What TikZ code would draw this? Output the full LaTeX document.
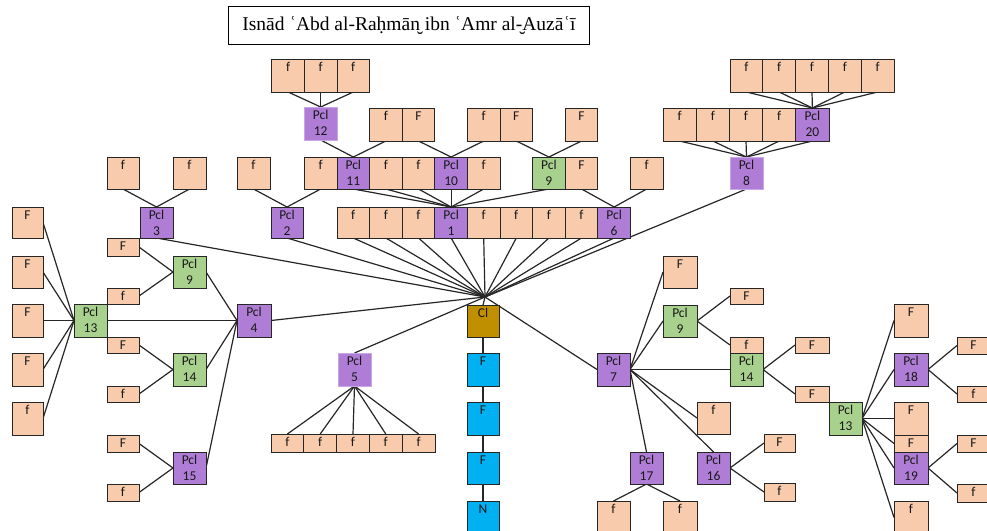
\documentclass[tikz,border=0pt]{standalone}
\usepackage{fontspec}
\setmainfont{Carlito}
\newfontfamily\titlefont{Liberation Serif}
\usetikzlibrary{backgrounds}
\definecolor{peach}{HTML}{F8CBAD}
\definecolor{grn}{HTML}{A9D18E}
\definecolor{purp}{HTML}{B07DD6}
\definecolor{purpl}{HTML}{C9A6E6}
\definecolor{gold}{HTML}{BF8F00}
\definecolor{cyanb}{HTML}{00B0F0}
\tikzset{
  box/.style={draw=black!85, line width=1pt, inner sep=0pt, outer sep=0pt, text=black!90, font=\fontsize{13.5}{16.5}\selectfont},
  pe/.style={box, fill=peach},
  gr/.style={box, fill=grn},
  pu/.style={box, fill=purp},
  pul/.style={box, fill=purp, draw=purpl},
  clbox/.style={box, fill=gold},
  bl/.style={box, fill=cyanb},
  con/.style={draw=black!85, line width=1.2pt},
}
\newcommand{\mybox}[7]{\node[#6,anchor=north west] (#1) at (#2,#3) {\parbox[t][\dimexpr #5pt-#3pt\relax][t]{\dimexpr #4pt-#2pt\relax}{\centering\rule{0pt}{12pt}#7}};}
\begin{document}
\begin{tikzpicture}[x=1pt,y=-1pt]
\useasboundingbox (0,0) rectangle (987,530);
% title
\node[draw=black, line width=0.8pt, minimum width=361pt, minimum height=38pt, inner sep=0pt, anchor=north west, font=\titlefont\fontsize{19.5}{22}\selectfont] (title) at (228,6) {Isnād ʿAbd al-Raḥmān̮ ibn ʿAmr al-̮Auzāʿī};
% ---------- top left
\mybox{fA1}{107}{157}{139}{189}{pe}{f}
\mybox{fA2}{173}{157}{206}{189}{pe}{f}
\mybox{p3}{140}{207}{173}{238}{pu}{Pcl\\3}
\mybox{fB1}{237}{157}{270}{189}{pe}{f}
\mybox{p2}{271}{207}{303}{238}{pu}{Pcl\\2}
% ---------- left column
\mybox{L1}{12}{207}{43}{238}{pe}{F}
\mybox{L2}{12}{256}{43}{288}{pe}{F}
\mybox{L3}{12}{304}{43}{337}{pe}{F}
\mybox{L4}{12}{353}{43}{386}{pe}{F}
\mybox{L5}{12}{402}{43}{435}{pe}{f}
\mybox{p13L}{74}{304}{107}{337}{gr}{Pcl\\13}
\mybox{sF1}{107}{238}{139}{256}{pe}{F}
\mybox{p9L}{173}{256}{206}{288}{gr}{Pcl\\9}
\mybox{sf1}{107}{288}{139}{304}{pe}{f}
\mybox{p4}{237}{304}{271}{337}{pu}{Pcl\\4}
\mybox{sF2}{107}{337}{139}{353}{pe}{F}
\mybox{p14L}{173}{353}{206}{386}{gr}{Pcl\\14}
\mybox{sf2}{107}{386}{139}{402}{pe}{f}
\mybox{sF3}{107}{435}{139}{452}{pe}{F}
\mybox{p15}{173}{452}{206}{484}{pu}{Pcl\\15}
\mybox{sf3}{107}{484}{139}{501}{pe}{f}
% ---------- top middle
\mybox{t1}{271.8}{59}{304.4}{92}{pe}{f}
\mybox{t2}{304.4}{59}{337}{92}{pe}{f}
\mybox{t3}{337}{59}{369.6}{92}{pe}{f}
\mybox{p12}{304.4}{107}{337}{140}{pul}{Pcl\\12}
\mybox{ra1}{369.6}{108}{402.2}{141}{pe}{f}
\mybox{ra2}{402.2}{108}{434.8}{141}{pe}{F}
\mybox{ra4}{467.4}{108}{500}{141}{pe}{f}
\mybox{ra5}{500}{108}{532.6}{141}{pe}{F}
\mybox{ra7}{565.2}{108}{597.8}{141}{pe}{F}
% row 2
\mybox{rbm}{304.4}{157}{337}{189}{pe}{f}
\mybox{p11}{337}{157}{369.6}{189}{pu}{Pcl\\11}
\mybox{rb1}{369.6}{157}{402.2}{189}{pe}{f}
\mybox{rb2}{402.2}{157}{434.8}{189}{pe}{f}
\mybox{p10}{434.8}{157}{467.4}{189}{pu}{Pcl\\10}
\mybox{rb4}{467.4}{157}{500}{189}{pe}{f}
\mybox{p9T}{532.6}{157}{565.2}{189}{gr}{Pcl\\9}
\mybox{rb7}{565.2}{157}{597.8}{189}{pe}{F}
\mybox{rb9}{630.4}{157}{663}{189}{pe}{f}
% row 3
\mybox{rc0}{337}{207}{369.6}{238}{pe}{f}
\mybox{rc1}{369.6}{207}{402.2}{238}{pe}{f}
\mybox{rc2}{402.2}{207}{434.8}{238}{pe}{f}
\mybox{p1}{434.8}{207}{467.4}{238}{pu}{Pcl\\1}
\mybox{rc4}{467.4}{207}{500}{238}{pe}{f}
\mybox{rc5}{500}{207}{532.6}{238}{pe}{f}
\mybox{rc6}{532.6}{207}{565.2}{238}{pe}{f}
\mybox{rc7}{565.2}{207}{597.8}{238}{pe}{f}
\mybox{p6}{597.8}{207}{630.4}{238}{pu}{Pcl\\6}
% ---------- top right
\mybox{u1}{730}{59}{762.8}{92}{pe}{f}
\mybox{u2}{762.8}{59}{795.6}{92}{pe}{f}
\mybox{u3}{795.6}{59}{828.4}{92}{pe}{f}
\mybox{u4}{828.4}{59}{861.2}{92}{pe}{f}
\mybox{u5}{861.2}{59}{894}{92}{pe}{f}
\mybox{v1}{663}{108}{696.2}{141}{pe}{f}
\mybox{v2}{696.2}{108}{729.4}{141}{pe}{f}
\mybox{v3}{729.4}{108}{762.6}{141}{pe}{f}
\mybox{v4}{762.6}{108}{795.8}{141}{pe}{f}
\mybox{p20}{795.8}{108}{829}{141}{pu}{Pcl\\20}
\mybox{p8}{730}{157}{763}{189}{pul}{Pcl\\8}
% ---------- centre
\coordinate (hub) at (485,297);
\mybox{cl}{467}{305}{499}{337}{clbox}{Cl}
\mybox{b1}{467}{353}{499}{386}{bl}{F}
\mybox{b2}{467}{402}{499}{435}{bl}{F}
\mybox{b3}{467}{452}{499}{484}{bl}{F}
\mybox{b4}{467}{501}{499}{534}{bl}{N}
\mybox{p5}{338}{353}{371}{386}{pul}{Pcl\\5}
\mybox{w1}{271}{434}{303.8}{452}{pe}{f}
\mybox{w2}{303.8}{434}{336.6}{452}{pe}{f}
\mybox{w3}{336.6}{434}{369.4}{452}{pe}{f}
\mybox{w4}{369.4}{434}{402.2}{452}{pe}{f}
\mybox{w5}{402.2}{434}{435}{452}{pe}{f}
% ---------- right
\mybox{p7}{597}{353}{630}{386}{pu}{Pcl\\7}
\mybox{RF1}{663}{256}{697}{288}{pe}{F}
\mybox{p9R}{663}{305}{697}{337}{gr}{Pcl\\9}
\mybox{rsF1}{730}{288}{763}{304}{pe}{F}
\mybox{rsf1}{730}{337}{763}{353}{pe}{f}
\mybox{p14R}{730}{353}{763}{386}{gr}{Pcl\\14}
\mybox{Rf2}{697}{402}{730}{434}{pe}{f}
\mybox{p17}{630}{452}{663}{484}{pu}{Pcl\\17}
\mybox{p16}{697}{452}{730}{484}{pu}{Pcl\\16}
\mybox{rsF2}{764}{434}{795}{452}{pe}{F}
\mybox{rsf2}{764}{483}{795}{501}{pe}{f}
\mybox{Rf3}{597}{501}{630}{534}{pe}{f}
\mybox{Rf4}{663}{501}{697}{534}{pe}{f}
\mybox{rsF3}{795}{337}{829}{353}{pe}{F}
\mybox{rsF4}{795}{386}{829}{402}{pe}{F}
\mybox{p13R}{829}{402}{862}{435}{gr}{Pcl\\13}
\mybox{RR1}{894}{304}{928}{337}{pe}{F}
\mybox{p18}{894}{353}{928}{386}{pu}{Pcl\\18}
\mybox{RR2}{894}{402}{928}{435}{pe}{F}
\mybox{RR3}{894}{435}{928}{452}{pe}{F}
\mybox{p19}{894}{452}{928}{484}{pu}{Pcl\\19}
\mybox{RR4}{894}{501}{928}{534}{pe}{f}
\mybox{RX1}{957}{337}{990}{354}{pe}{F}
\mybox{RX2}{957}{386}{990}{402}{pe}{f}
\mybox{RX3}{957}{435}{990}{452}{pe}{F}
\mybox{RX4}{957}{484}{990}{502}{pe}{f}
% ---------- connectors
\begin{pgfonlayer}{background}
\draw[con] (fA1.south) -- (p3.north) -- (fA2.south);
\draw[con] (fB1.south) -- (p2.north) -- (rbm.south);
\foreach \n in {p3,p2,rc0,rc1,rc2,p1,rc4,rc5,rc6,rc7,p6,p8}
  \draw[con] (\n.south) -- (hub);
\draw[con] (p4.east) -- (hub);
\draw[con] (p5.north) -- (hub);
\draw[con] (hub) -- (cl.north);
\draw[con] (cl.south) -- (b1.north) (b1.south) -- (b2.north) (b2.south) -- (b3.north) (b3.south) -- (b4.north);
\foreach \n in {L1,L2,L3,L4,L5}
  \draw[con] (\n.east) -- (p13L.west);
\draw[con] (p13L.east) -- (p4.west);
\draw[con] (sF1.east) -- (p9L.west) -- (sf1.east);
\draw[con] (sF2.east) -- (p14L.west) -- (sf2.east);
\draw[con] (sF3.east) -- (p15.west) -- (sf3.east);
\foreach \n in {p9L,p14L,p15}
  \draw[con] (\n.east) -- (p4.west);
\foreach \n in {t1,t2,t3}
  \draw[con] (\n.south) -- (p12.north);
\draw[con] (p12.south) -- (p11.north) -- (ra1.south);
\draw[con] (ra2.south) -- (p10.north) -- (ra4.south);
\draw[con] (ra5.south) -- (p9T.north) -- (ra7.south);
\foreach \n in {p11,rb1,rb2,p10,rb4,p9T}
  \draw[con] (\n.south) -- (p1.north);
\draw[con] (rb7.south) -- (p6.north) -- (rb9.south);
\foreach \n in {u1,u2,u3,u4,u5}
  \draw[con] (\n.south) -- (p20.north);
\foreach \n in {v1,v2,v3,v4,p20}
  \draw[con] (\n.south) -- (p8.north);
\foreach \n in {w1,w2,w3,w4,w5}
  \draw[con] (p5.south) -- (\n.north);
\draw[con] (hub) -- (p7.west);
\foreach \n in {RF1,p9R,p14R,Rf2}
  \draw[con] (p7.east) -- (\n.west);
\draw[con] (p7.east) -- (p16.north);
\draw[con] (p7.east) -- (p17.north);
\draw[con] (rsF1.west) -- (p9R.east) -- (rsf1.west);
\draw[con] (rsF3.west) -- (p14R.east) -- (rsF4.west);
\draw[con] (rsF2.west) -- (p16.east) -- (rsf2.west);
\draw[con] (Rf3.north) -- (p17.south) -- (Rf4.north);
\foreach \n in {RR1,p18,RR2,RR3,p19,RR4}
  \draw[con] (p13R.east) -- (\n.west);
\draw[con] (RX1.west) -- (p18.east) -- (RX2.west);
\draw[con] (RX3.west) -- (p19.east) -- (RX4.west);
\end{pgfonlayer}
\end{tikzpicture}
\end{document}
